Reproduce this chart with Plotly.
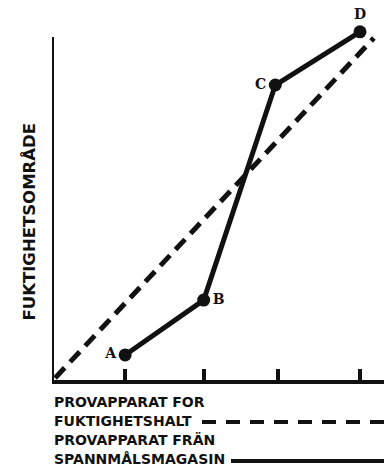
import plotly.graph_objects as go

# Mätpunkter (spannmålsmagasin) och referenslinje (fuktighetshalt)
LABELS = ["A", "B", "C", "D"]
X_PTS = [0.95, 1.97, 2.90, 4.0]
Y_PTS = [0.73, 2.33, 8.6, 10.15]
X_REF = [0.04, 4.18]
Y_REF = [0.06, 9.97]
TICKS_X = [0.95, 1.97, 2.94, 4.0]

Y_TITLE = "FUKTIGHETSOMRÅDE"
LEG_DASH = ["PROVAPPARAT FOR", "FUKTIGHETSHALT"]
LEG_SOLID = ["PROVAPPARAT FRÄN", "SPANNMÅLSMAGASIN"]

W, H = 384, 467
ML, MR, MT, MB = 52, 0, 10, 87
PH = H - MT - MB


def py(px):
    # pixel y -> paper y
    return (H - MB - px) / PH


def pxx(px):
    return (px - ML) / (W - ML - MR)


BLACK = "#111111"
SANS = "DejaVu Sans, Arial, sans-serif"
SERIF = "DejaVu Serif, serif"

fig = go.Figure()

fig.add_trace(go.Scatter(
    x=X_REF, y=Y_REF, mode="lines",
    line=dict(color=BLACK, width=5, dash="14px,8px"),
    showlegend=False, hoverinfo="skip"
))

fig.add_trace(go.Scatter(
    x=X_PTS, y=Y_PTS, mode="lines+markers+text",
    text=[f"<b>{t}</b>" for t in LABELS],
    textposition=["middle left", "middle right", "middle left", "top center"],
    textfont=dict(family=SERIF, size=14, color=BLACK),
    line=dict(color=BLACK, width=5),
    marker=dict(color=BLACK, size=13),
    cliponaxis=False, showlegend=False, hoverinfo="skip"
))

# y-axelns linje
fig.add_shape(type="line", x0=0, x1=0, y0=-0.06, y1=10.0, xref="x", yref="y",
              line=dict(color=BLACK, width=4))

# y-axelns titel
fig.add_annotation(text=f"<b>{Y_TITLE}</b>", xref="paper", yref="paper",
                   x=pxx(18), y=py(222), textangle=-90, showarrow=False,
                   font=dict(family=SANS, size=16.5, color=BLACK))

# teckenförklaring nedtill
rows = [(LEG_DASH[0], 402), (LEG_DASH[1], 421), (LEG_SOLID[0], 440), (LEG_SOLID[1], 459)]
for txt, ypx in rows:
    fig.add_annotation(text=f"<b>{txt}</b>", xref="paper", yref="paper",
                       x=pxx(52), y=py(ypx), xanchor="left", yanchor="middle",
                       showarrow=False, font=dict(family=SANS, size=14, color=BLACK))

fig.add_shape(type="line", xref="paper", yref="paper",
              x0=pxx(202), x1=pxx(384), y0=py(422), y1=py(422),
              line=dict(color=BLACK, width=4, dash="14px,10px"))
fig.add_shape(type="line", xref="paper", yref="paper",
              x0=pxx(231), x1=pxx(384), y0=py(461), y1=py(461),
              line=dict(color=BLACK, width=4))

fig.update_xaxes(range=[0, (W - ML - MR) / 77], showgrid=False, zeroline=False,
                 showline=True, linecolor=BLACK, linewidth=4,
                 tickmode="array", tickvals=TICKS_X, ticks="inside",
                 ticklen=11, tickwidth=4, tickcolor=BLACK, showticklabels=False)
fig.update_yaxes(range=[0, PH / 34.3], showgrid=False, zeroline=False,
                 showline=False, showticklabels=False, ticks="")

fig.update_layout(
    width=W, height=H, template="none",
    paper_bgcolor="white", plot_bgcolor="white",
    margin=dict(l=ML, r=MR, t=MT, b=MB),
    showlegend=False, hovermode=False
)

fig.write_html("out.html", config={"displayModeBar": False},
               post_script="document.body.style.margin='0';")
